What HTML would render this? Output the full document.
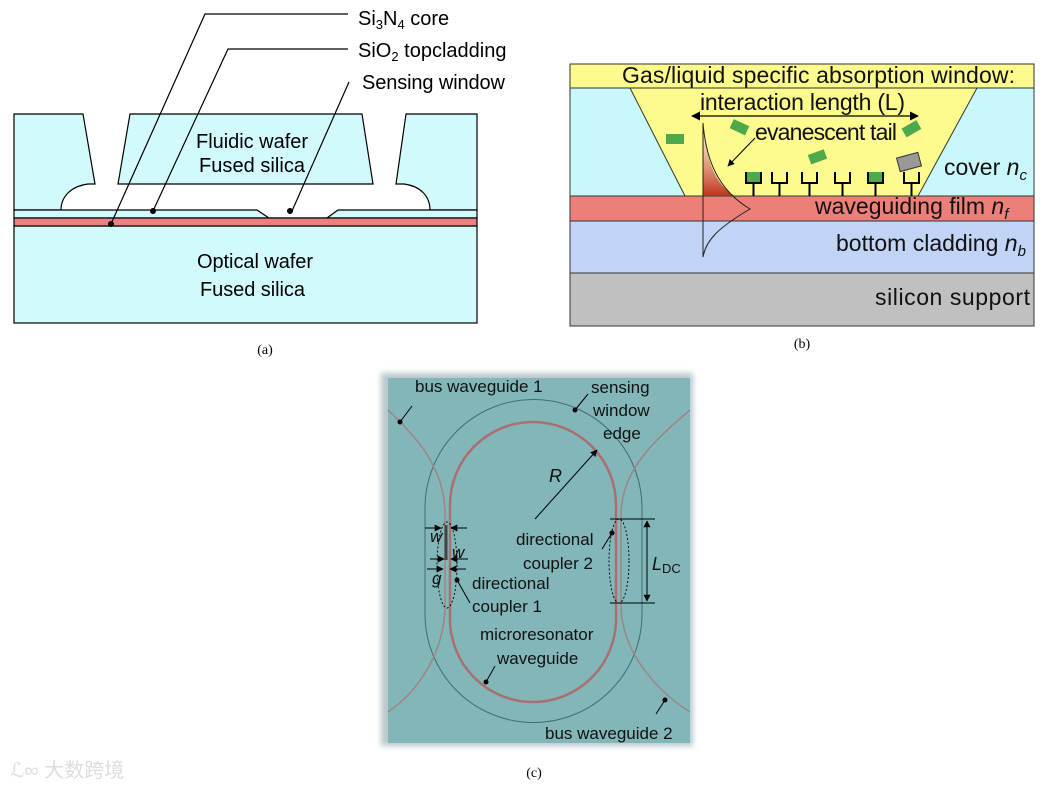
<!DOCTYPE html>
<html><head><meta charset="utf-8"><style>
html,body{margin:0;padding:0;background:#fff;}
svg{display:block;font-family:"Liberation Sans",Arial,sans-serif;}
</style></head><body>
<svg width="1050" height="788" viewBox="0 0 1050 788" xmlns="http://www.w3.org/2000/svg">
<defs>
<linearGradient id="ev" x1="0" y1="0" x2="0" y2="1">
<stop offset="0" stop-color="#fff" stop-opacity="0.6"/>
<stop offset="1" stop-color="#c0301c"/>
</linearGradient>
<filter id="glow" x="-10%" y="-10%" width="120%" height="120%"><feGaussianBlur stdDeviation="3"/></filter>
<marker id="ah" viewBox="0 0 10 10" refX="9" refY="5" markerWidth="7" markerHeight="7" orient="auto-start-reverse"><path d="M0,0 L10,5 L0,10 z" fill="#000"/></marker>
</defs>

<!-- (a) -->
<g stroke="#000" stroke-width="1.2" fill="#d2fafc">
<rect x="14" y="226" width="463" height="97"/>
<path d="M14,114 L83,114 L95,184 L88,184 C72,186 61,196 61,210 L14,210 Z"/>
<path d="M130,114 L362,114 L373,184 L118,184 Z"/>
<path d="M406,114 L477,114 L477,210 L430,210 C430,196 420,186 404,184 L396,184 Z"/>
<path d="M14,210 L257,210 L269,218 L327,218 L338,210 L477,210 L477,218 L14,218 Z"/>
<rect x="14" y="218" width="463" height="8" fill="#ec8080"/>
</g>
<g stroke="#000" stroke-width="1.2" fill="none">
<polyline points="348,14 205,14 111,224"/>
<polyline points="348,49 228,49 153,211"/>
<line x1="349" y1="82" x2="292" y2="211"/>
</g>
<circle cx="111" cy="224" r="3"/><circle cx="153" cy="211" r="3"/><circle cx="290" cy="211" r="3"/>
<g font-size="20" fill="#000">
<text x="358" y="25">Si<tspan font-size="13" dy="4">3</tspan><tspan dy="-4">N</tspan><tspan font-size="13" dy="4">4</tspan><tspan dy="-4"> core</tspan></text>
<text x="358" y="57">SiO<tspan font-size="13" dy="4">2</tspan><tspan dy="-4"> topcladding</tspan></text>
<text x="362" y="89" textLength="143">Sensing window</text>
<text x="196" y="148" textLength="112">Fluidic wafer</text>
<text x="199" y="172" textLength="106">Fused silica</text>
<text x="197" y="268" textLength="116">Optical wafer</text>
<text x="200" y="296" textLength="105">Fused silica</text>
</g>
<text x="265" y="354" font-family="Liberation Serif,serif" font-size="14" text-anchor="middle">(a)</text>

<!-- (b) -->
<g stroke="#333" stroke-width="1">
<rect x="570" y="64" width="464" height="24" fill="#fdfa8e"/>
<rect x="570" y="88" width="464" height="108" fill="#c8f8fa"/>
<polygon points="630,88 977,88 918,196 685,196" fill="#fdfa8e"/>
<rect x="570" y="196" width="464" height="25" fill="#ec8078"/>
<rect x="570" y="221" width="464" height="52" fill="#c2d4f6"/>
<rect x="570" y="273" width="464" height="53" fill="#c0c0c0"/>
</g>
<path d="M703,123 C706,160 715,185 735,196 L703,196 Z" fill="url(#ev)"/>
<path d="M703,123 C706,160 718,190 750,209 C718,228 706,240 703,257 L703,123" fill="none" stroke="#222" stroke-width="1"/>
<line x1="692" y1="116" x2="918" y2="116" stroke="#000" stroke-width="1.3" marker-start="url(#ah)" marker-end="url(#ah)"/>
<line x1="755" y1="138" x2="728" y2="166" stroke="#000" stroke-width="1" marker-end="url(#ah)"/>
<g fill="#4caa4c">
<rect x="666" y="134" width="18" height="10"/>
<rect x="731" y="122" width="17" height="10" transform="rotate(25 739 127)"/>
<rect x="809" y="152" width="17" height="10" transform="rotate(-20 817 157)"/>
<rect x="903" y="124" width="17" height="10" transform="rotate(-30 911 129)"/>
<rect x="746" y="172" width="15" height="11"/>
<rect x="868" y="172" width="15" height="11"/>
</g>
<rect x="898" y="155" width="22" height="14" fill="#999" stroke="#333" transform="rotate(-15 909 162)"/>
<g stroke="#000" stroke-width="2" fill="none">
<path d="M746,172 V183 H761 V172 M753.5,183 V196"/>
<path d="M772,172 V183 H787 V172 M779.5,183 V196"/>
<path d="M802,172 V183 H817 V172 M809.5,183 V196"/>
<path d="M835,172 V183 H850 V172 M842.5,183 V196"/>
<path d="M868,172 V183 H883 V172 M875.5,183 V196"/>
<path d="M904,172 V183 H919 V172 M911.5,183 V196"/>
</g>
<g font-size="23" fill="#111">
<text x="622" y="83" textLength="393">Gas/liquid specific absorption window:</text>
<text x="700" y="110" textLength="205">interaction length (L)</text>
<text x="755" y="140" textLength="142">evanescent tail</text>
<text x="944" y="175">cover <tspan font-style="italic">n<tspan font-size="15" dy="5">c</tspan></tspan></text>
<text x="815" y="214">waveguiding film <tspan font-style="italic">n<tspan font-size="15" dy="5">f</tspan></tspan></text>
<text x="836" y="251">bottom cladding <tspan font-style="italic">n<tspan font-size="15" dy="5">b</tspan></tspan></text>
<text x="875" y="305" textLength="155">silicon support</text>
</g>
<text x="802" y="348" font-family="Liberation Serif,serif" font-size="14" text-anchor="middle">(b)</text>

<!-- (c) -->
<rect x="381" y="373" width="312" height="373" fill="#b8c8cc" filter="url(#glow)"/>
<rect x="388" y="378" width="302" height="365" fill="#82b6b9"/>
<path d="M425,508 A108.5,108.5 0 0 1 642,508 L642,614 A108.5,108.5 0 0 1 425,614 Z" fill="none" stroke="#3f6e72" stroke-width="1"/>
<path d="M450,505 A83,83 0 0 1 616,505 L616,619 A83,83 0 0 1 450,619 Z" fill="none" stroke="#a97070" stroke-width="2.5"/>
<path d="M388,410 C420,440 445,470 445,515 L445,605 C445,650 420,690 388,712" fill="none" stroke="#a08484" stroke-width="1.5"/>
<path d="M690,410 C655,440 621,470 621,515 L621,605 C621,650 655,690 690,712" fill="none" stroke="#a08484" stroke-width="1.5"/>
<line x1="446" y1="525" x2="446" y2="560" stroke="#444" stroke-width="3"/>
<g stroke="#000" stroke-width="0.9" fill="none" stroke-dasharray="2,2">
<ellipse cx="447" cy="565" rx="10" ry="43"/>
<ellipse cx="619" cy="561" rx="10" ry="42"/>
</g>
<g stroke="#000" stroke-width="1">
<line x1="425" y1="528" x2="441" y2="528" marker-end="url(#ah)"/><line x1="467" y1="528" x2="451" y2="528" marker-end="url(#ah)"/>
<line x1="430" y1="559" x2="444" y2="559" marker-end="url(#ah)"/><line x1="468" y1="559" x2="451" y2="559" marker-end="url(#ah)"/>
<line x1="427" y1="569" x2="443" y2="569" marker-end="url(#ah)"/><line x1="466" y1="569" x2="450" y2="569" marker-end="url(#ah)"/>
<line x1="610" y1="519" x2="655" y2="519"/><line x1="610" y1="603" x2="655" y2="603"/>
<line x1="647" y1="521" x2="647" y2="601" marker-start="url(#ah)" marker-end="url(#ah)"/>
<line x1="535" y1="519" x2="597" y2="450" marker-end="url(#ah)"/>
<line x1="400" y1="422" x2="412" y2="406"/>
<line x1="575" y1="410" x2="588" y2="394"/>
<line x1="457" y1="580" x2="470" y2="603"/>
<line x1="486" y1="682" x2="495" y2="666"/>
<line x1="612" y1="533" x2="602" y2="549"/>
<line x1="665" y1="700" x2="656" y2="714"/>
</g>
<g fill="#000"><circle cx="400" cy="422" r="2.5"/><circle cx="575" cy="410" r="2.5"/><circle cx="457" cy="580" r="2.5"/><circle cx="612" cy="533" r="2.5"/><circle cx="486" cy="682" r="2.5"/><circle cx="665" cy="700" r="2.5"/></g>
<g font-size="17" fill="#111">
<text x="415" y="392">bus waveguide 1</text>
<text x="591" y="393">sensing</text>
<text x="593" y="416">window</text>
<text x="603" y="439">edge</text>
<text x="549" y="482" font-style="italic" font-size="18">R</text>
<text x="516" y="545">directional</text>
<text x="523" y="569">coupler 2</text>
<text x="472" y="589">directional</text>
<text x="472" y="612">coupler 1</text>
<text x="480" y="640">microresonator</text>
<text x="497" y="664">waveguide</text>
<text x="545" y="739">bus waveguide 2</text>
<text x="430" y="542" font-style="italic" font-size="17">w</text>
<text x="452" y="558" font-style="italic" font-size="17">w</text>
<text x="432" y="584" font-style="italic" font-size="17">g</text>
<text x="652" y="570" font-style="italic" font-size="18">L<tspan font-style="normal" font-size="13" dy="3">DC</tspan></text>
</g>
<text x="534" y="777" font-family="Liberation Serif,serif" font-size="14" text-anchor="middle">(c)</text>
<text x="10" y="777" font-family="Liberation Sans,'Noto Sans CJK SC',sans-serif" font-size="20" fill="#ddd">ℒ∞ 大数跨境</text>
</svg>
</body></html>
